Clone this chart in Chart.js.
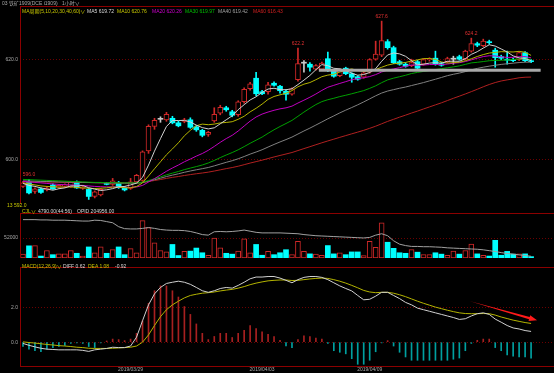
<!DOCTYPE html>
<html>
<head>
<meta charset="utf-8">
<script src="https://cdn.jsdelivr.net/npm/chart.js@4.4.1/dist/chart.umd.min.js"></script>
<style>
  html, body { margin:0; padding:0; background:#000; }
  body { width:554px; height:373px; position:relative; overflow:hidden; }
  canvas { position:absolute; left:0; }
  .t { position:absolute; font-family:"Liberation Sans","Noto Sans CJK SC",sans-serif; font-size:5px; line-height:6px; white-space:nowrap; }
</style>
</head>
<body>
<canvas id="main" width="554" height="209" style="top:0px"></canvas>
<canvas id="vol" width="554" height="54" style="top:209px"></canvas>
<canvas id="macd" width="554" height="110" style="top:263px"></canvas>

<div class="t" style="left:2px;top:0px;color:#a8a8a8">03 铁矿1909(DCE i1909)</div>
<div class="t" style="left:62px;top:0px;color:#a8a8a8">1小时∨</div>
<div class="t" style="left:22px;top:8px;color:#c8c800">MA周期(5,10,20,30,40,60)∨</div>
<div class="t" style="left:87px;top:8px;color:#d8d8d8">MA5 619.72</div>
<div class="t" style="left:117px;top:8px;color:#c8c800">MA10 620.76</div>
<div class="t" style="left:152px;top:8px;color:#d000d0">MA20 620.26</div>
<div class="t" style="left:185px;top:8px;color:#00c000">MA30 619.97</div>
<div class="t" style="left:218px;top:8px;color:#a0a0a0">MA40 619.42</div>
<div class="t" style="left:253px;top:8px;color:#d02020">MA60 616.43</div>
<div class="t" style="left:7px;top:202px;color:#c8c800">13 592.0</div>
<div class="t" style="left:22px;top:208px;color:#c8c800">CJL∨</div>
<div class="t" style="left:38px;top:208px;color:#d8d8d8">4790.00(44:56)</div>
<div class="t" style="left:77px;top:208px;color:#d8d8d8">OPID 204956.00</div>
<div class="t" style="left:22px;top:263px;color:#c8c800">MACD(12,26,9)∨</div>
<div class="t" style="left:63px;top:263px;color:#d8d8d8">DIFF 0.62</div>
<div class="t" style="left:88px;top:263px;color:#c8c800">DEA 1.08</div>
<div class="t" style="left:115px;top:263px;color:#d8d8d8">-0.92</div>

<script>
// ---------------- data ----------------
const slotCount = 89;
const dateTicks = {18:'2019/03/29', 40:'2019/04/03', 58:'2019/04/09'};

const open = [
594.6,595.5,593.6,594.1,593.9,594.9,594.4,594.6,594.5,595.5,
594.2,594.0,592.6,592.9,595.2,595.0,595.3,594.4,594.2,595.5,
595.8,601.7,606.6,608.0,607.9,608.2,607.3,607.6,607.9,606.5,
605.8,605.0,607.7,609.2,610.3,609.5,608.9,611.5,614.1,616.2,
613.5,613.5,615.2,614.6,613.6,613.0,615.9,619.2,619.0,618.0,
618.0,620.1,617.6,616.7,618.2,617.1,616.5,616.4,617.4,620.0,
620.8,623.5,622.3,619.5,619.0,618.7,619.5,619.0,619.9,620.2,
619.1,619.5,620.0,620.5,620.1,621.6,623.1,622.7,623.5,621.8,
620.5,620.0,619.9,619.9,621.3,619.7];
const high = [
595.6,596.0,594.3,594.3,594.6,595.1,595.0,595.1,595.6,595.7,
594.7,594.2,593.7,594.2,595.4,596.2,595.6,594.6,596.2,597.0,
601.7,606.9,608.2,608.5,609.4,608.6,607.6,608.2,608.3,606.8,
606.0,605.6,610.3,610.8,610.6,609.8,611.7,614.3,615.4,617.4,
613.8,615.4,615.5,614.8,613.9,614.3,622.2,619.7,619.3,618.9,
619.4,621.4,617.9,618.1,618.4,617.3,616.7,617.5,620.1,623.6,
627.6,623.9,622.6,619.8,619.3,620.0,619.8,620.1,620.3,621.6,
619.4,620.4,620.6,620.8,621.8,624.2,623.4,624.0,623.8,622.2,
620.8,621.6,620.2,621.5,621.5,619.9];
const low = [
594.4,593.1,593.2,593.2,593.7,594.0,594.2,594.4,594.4,594.2,
594.0,592.0,592.3,592.7,594.9,594.8,594.2,593.7,594.0,595.2,
595.6,601.2,606.0,607.4,607.6,607.1,606.5,607.3,606.2,605.6,
604.5,604.6,607.4,608.9,609.6,608.5,608.6,611.2,613.8,612.7,
612.9,613.0,614.6,613.2,611.8,612.8,615.6,617.4,617.6,617.8,
617.8,617.5,616.4,616.5,616.9,615.4,615.8,616.2,617.2,619.8,
620.5,622.0,619.1,618.8,618.4,618.5,617.9,618.8,619.6,618.8,
618.6,619.3,619.0,619.8,619.9,621.4,622.5,622.5,623.0,618.4,
619.9,619.0,619.5,619.7,619.5,619.3];
const close = [
595.3,593.3,594.1,593.4,594.3,594.1,594.8,594.9,595.4,594.3,
594.5,592.6,593.5,594.0,595.0,595.7,594.4,593.9,595.5,596.8,
601.5,606.6,607.8,608.0,609.0,607.3,606.7,607.9,606.4,605.9,
604.8,605.4,609.0,610.4,609.9,608.8,611.5,614.0,615.1,613.1,
613.1,614.9,614.8,613.7,613.0,614.1,619.1,619.2,618.4,618.7,
619.2,618.0,616.6,617.9,617.1,616.4,616.0,617.3,619.9,621.0,
623.7,622.3,619.3,619.0,618.6,619.3,618.2,619.9,620.1,619.0,
618.8,620.1,620.0,620.0,621.6,623.1,622.8,623.6,623.3,620.3,
620.2,619.8,619.7,621.3,619.7,619.5];

const ma5 = [
595.2,594.8,594.6,594.3,594.08,593.84,594.14,594.30,594.70,594.70,
594.78,594.34,594.06,593.78,593.92,594.16,594.52,594.60,594.90,595.26,
596.42,598.86,601.64,604.14,606.58,607.74,607.76,607.78,607.46,606.84,
606.34,606.08,606.30,607.10,607.90,608.70,609.92,610.92,611.86,612.50,
613.36,614.04,614.20,613.92,613.90,614.10,614.94,615.82,616.76,617.90,
618.92,618.70,618.18,618.08,617.76,617.20,616.80,616.94,617.34,618.12,
619.58,620.84,621.24,621.06,620.58,619.70,618.88,619.00,619.22,619.30,
619.20,619.58,619.60,619.58,620.10,620.96,621.50,622.22,622.88,622.62,
622.04,621.44,620.66,620.26,620.14,619.72];
const ma10 = [
595.3,595.1,594.9,594.7,594.6,594.52,594.47,594.45,594.5,594.39,
594.31,594.24,594.18,594.24,594.31,594.47,594.43,594.33,594.34,594.59,
595.29,596.69,598.12,599.52,600.92,602.08,603.31,604.71,605.80,606.71,
607.04,606.92,607.04,607.28,607.37,607.52,608.00,608.61,609.48,610.20,
611.03,611.98,612.56,612.89,613.20,613.73,614.49,615.01,615.34,615.90,
616.51,616.82,617.00,617.42,617.83,618.06,617.75,617.56,617.71,617.94,
618.39,618.82,619.09,619.20,619.35,619.64,619.86,620.12,620.14,619.94,
619.45,619.23,619.30,619.40,619.70,620.08,620.54,620.91,621.23,621.36,
621.50,621.47,621.44,621.57,621.38,620.76];
const ma20 = [
595.6,595.5,595.4,595.3,595.2,595.1,595.0,594.95,594.9,594.85,
594.8,594.7,594.6,594.55,594.5,594.5,594.45,594.4,594.4,594.49,
594.80,595.47,596.15,596.88,597.62,598.28,598.87,599.52,600.07,600.65,
601.17,601.81,602.58,603.40,604.15,604.80,605.66,606.66,607.64,608.46,
609.04,609.45,609.80,610.09,610.29,610.63,611.25,611.81,612.41,613.05,
613.77,614.40,614.78,615.16,615.52,615.90,616.12,616.29,616.53,616.92,
617.45,617.82,618.05,618.31,618.59,618.85,618.81,618.84,618.93,618.94,
618.92,619.03,619.20,619.30,619.53,619.86,620.20,620.52,620.69,620.65,
620.48,620.35,620.37,620.49,620.54,620.26];
const ma30 = [
596.0,595.95,595.9,595.85,595.8,595.75,595.7,595.65,595.6,595.55,
595.5,595.45,595.4,595.4,595.35,595.35,595.3,595.3,595.3,595.3,
595.45,595.77,596.13,596.50,596.91,597.25,597.58,597.95,598.26,598.56,
598.88,599.28,599.78,600.35,600.87,601.36,601.91,602.55,603.21,603.83,
604.45,605.20,605.91,606.56,607.16,607.78,608.60,609.44,610.21,610.94,
611.53,611.91,612.20,612.53,612.80,613.10,613.41,613.73,614.18,614.68,
615.31,615.87,616.22,616.50,616.79,617.14,617.37,617.56,617.73,617.93,
618.12,618.29,618.46,618.67,618.96,619.26,619.38,619.53,619.69,619.75,
619.78,619.84,619.94,620.06,620.10,619.97];
const ma40 = [
595.7,595.68,595.65,595.6,595.58,595.55,595.5,595.48,595.45,595.42,
595.4,595.38,595.35,595.32,595.3,595.28,595.26,595.25,595.25,595.25,
595.38,595.65,595.94,596.24,596.57,596.85,597.12,597.42,597.68,597.92,
598.14,598.38,598.70,599.06,599.41,599.73,600.12,600.57,601.05,601.47,
601.92,602.46,602.98,603.48,603.95,604.45,605.06,605.67,606.24,606.85,
607.47,608.10,608.68,609.28,609.83,610.35,610.89,611.47,612.08,612.69,
613.24,613.64,613.92,614.20,614.44,614.74,615.03,615.33,615.67,616.00,
616.35,616.71,616.99,617.23,617.52,617.88,618.16,618.40,618.61,618.79,
618.96,619.09,619.21,619.33,619.40,619.42];
const ma60 = [
595.5,595.5,595.48,595.47,595.46,595.45,595.44,595.42,595.4,595.4,
595.38,595.36,595.35,595.34,595.32,595.32,595.31,595.3,595.3,595.30,
595.39,595.58,595.78,595.98,596.20,596.40,596.58,596.78,596.96,597.13,
597.28,597.45,597.67,597.91,598.15,598.37,598.63,598.94,599.26,599.55,
599.84,600.16,600.48,600.78,601.07,601.37,601.76,602.15,602.53,602.92,
603.31,603.68,604.03,604.40,604.75,605.10,605.44,605.80,606.20,606.62,
607.10,607.58,608.00,608.43,608.83,609.25,609.64,610.06,610.47,610.88,
611.29,611.74,612.19,612.62,613.06,613.52,613.99,614.49,614.95,615.34,
615.65,615.87,616.07,616.29,616.40,616.43];

const volume = [
10100,31800,32500,5100,19500,8700,10800,10800,19500,12300,
5100,28900,13700,28900,12300,21700,28900,8700,24500,13700,
97500,79400,39700,19500,15900,35400,6500,17300,18000,26000,
13700,7200,52000,26700,12300,10100,18000,49800,13700,35400,
7200,17300,8700,13700,21700,8700,43300,17300,10800,10100,
7200,32500,10800,13700,8700,15900,15900,6500,43300,28200,
91700,41200,25300,13700,12300,21700,15200,8700,8700,13700,
10100,7200,18000,10100,19500,36100,10800,7200,5100,46200,
7200,17300,10100,10800,10800,3600];
const openInterest = [
256960,256960,256960,256560,256560,256160,256160,256160,255760,255360,
254960,254960,256160,255760,254160,252560,246960,244160,243760,243760,
244560,245760,244560,242960,242160,241760,241760,241360,240160,238160,
235760,234960,239760,240160,239760,240160,240960,242160,240560,238960,
238160,238160,238160,238160,237760,237360,236960,235760,234960,234160,
233760,233360,232960,232560,232160,231760,231360,230960,231760,234960,
236960,234160,226960,222160,220160,218960,218960,218560,218560,218160,
217760,216960,216560,216160,215760,215360,214960,214160,212960,211760,
210160,208960,208160,206960,206160,204956];

const diff = [
-0.07,-0.18,-0.27,-0.35,-0.40,-0.42,-0.44,-0.44,-0.44,-0.44,
-0.47,-0.53,-0.44,-0.40,-0.36,-0.29,-0.31,-0.31,-0.22,0.29,
1.24,2.15,2.78,3.15,3.38,3.45,3.51,3.45,3.33,3.15,
2.96,2.87,2.96,3.09,3.15,3.11,3.27,3.45,3.65,3.75,
3.75,3.78,3.78,3.69,3.56,3.42,3.60,3.73,3.78,3.78,
3.73,3.60,3.42,3.24,3.09,2.95,2.69,2.44,2.47,2.65,
2.87,2.87,2.69,2.51,2.29,2.15,1.96,1.87,1.78,1.69,
1.60,1.51,1.42,1.31,1.35,1.51,1.64,1.69,1.60,1.33,
1.15,0.96,0.82,0.76,0.67,0.62];
const dea = [
0.02,-0.02,-0.05,-0.09,-0.13,-0.16,-0.20,-0.22,-0.25,-0.29,
-0.31,-0.35,-0.36,-0.36,-0.36,-0.35,-0.33,-0.31,-0.29,-0.22,
0.00,0.42,0.96,1.47,1.87,2.15,2.36,2.55,2.69,2.76,
2.82,2.85,2.89,2.95,3.00,3.04,3.11,3.20,3.31,3.40,
3.47,3.53,3.56,3.58,3.58,3.55,3.56,3.60,3.64,3.67,
3.69,3.67,3.60,3.51,3.40,3.27,3.13,2.98,2.89,2.85,
2.87,2.87,2.82,2.73,2.62,2.49,2.36,2.24,2.13,2.02,
1.93,1.84,1.76,1.69,1.65,1.64,1.64,1.65,1.64,1.56,
1.45,1.36,1.27,1.20,1.13,1.08];
const macdHist = [
-0.25,-0.40,-0.49,-0.55,-0.40,-0.31,-0.25,-0.18,-0.07,-0.04,
-0.07,-0.25,-0.31,-0.04,0.07,0.18,0.15,0.09,0.18,0.51,
1.24,2.24,2.96,3.24,3.24,2.96,2.60,2.05,1.60,1.05,
0.51,0.15,0.33,0.51,0.51,0.27,0.51,0.69,0.96,0.78,
0.60,0.45,0.33,0.11,-0.22,-0.31,0.15,0.36,0.33,0.24,
0.18,-0.07,-0.49,-0.58,-0.67,-0.95,-1.27,-1.27,-1.04,-0.55,
-0.04,0.09,-0.22,-0.58,-0.85,-1.04,-1.04,-1.04,-1.04,-1.04,
-1.04,-1.04,-0.98,-0.91,-0.49,-0.07,0.11,0.18,0.18,-0.31,
-0.49,-0.73,-0.80,-0.85,-0.85,-0.92];

const priceTicks = [600, 620];
const volumeTicks = [52000];
const macdTicks = [0, 2];
// extreme-price marks: [bar index, price]
const priceMarks = [[1, 596.0], [46, 622.2], [60, 627.6], [75, 624.2]];
// drawn support line: price level and bar span
const supportLine = {price: 617.8, from: 50, to: 86.6};
// red arrow on MACD panel: [bar index, value]
const arrowFrom = [74.8, 2.36];
const arrowTo = [86.0, 1.26];

// ---------------- styling ----------------
const RED = '#d02828', CYAN = '#00ffff', DOJI = '#c8c8c8', FRAME = '#8b0000', GRID = '#6a0000';
const FONT = 'Liberation Sans';
Chart.defaults.font.family = FONT;
Chart.defaults.font.size = 5;

const xLabels = [];
for (let i = 0; i < slotCount; i++) xLabels.push(dateTicks[i] || '');
const dir = close.map((c, i) => c > open[i] ? 1 : (c < open[i] ? -1 : 0));

function xAxis(show) {
  const ax = {
    type: 'category', labels: xLabels, offset: true, display: show,
    grid: {display: false, drawTicks: false}, border: {display: false},
    ticks: {autoSkip: false, maxRotation: 0, minRotation: 0, padding: 1, color: '#a8a8a8',
            font: {size: 5}, callback: (v, i) => xLabels[i]}
  };
  if (show) ax.afterFit = s => { s.height = 7; };
  return ax;
}
function yAxis(min, max, ticks, fmt) {
  return {
    position: 'left', min, max,
    afterFit: s => { s.width = 20; },
    afterBuildTicks: s => { s.ticks = ticks.map(v => ({value: v})); },
    ticks: {color: '#a8a8a8', font: {size: 5}, padding: 2, callback: fmt},
    grid: {color: GRID, drawTicks: false, lineWidth: 1},
    border: {display: false, dash: [1, 2]}
  };
}
const framePlugin = {
  id: 'frame',
  afterDraw(chart, args, opts) {
    const {ctx, chartArea: a, width} = chart;
    ctx.save();
    ctx.strokeStyle = FRAME; ctx.lineWidth = 1;
    ctx.beginPath();
    ctx.moveTo(a.left + 0.5, a.top); ctx.lineTo(a.left + 0.5, a.bottom);
    if (opts.top) { ctx.moveTo(a.left, a.top - 0.5); ctx.lineTo(width, a.top - 0.5); }
    if (opts.bottom) { ctx.moveTo(a.left, a.bottom + 0.5); ctx.lineTo(width, a.bottom + 0.5); }
    ctx.stroke();
    ctx.restore();
  }
};
const common = {
  responsive: false, animation: false, devicePixelRatio: 1, events: [],
};

// ---------------- main price chart ----------------
const bodyColors = dir.map(d => d > 0 ? '#000000' : (d < 0 ? CYAN : DOJI));
const edgeColors = dir.map(d => d > 0 ? RED : (d < 0 ? CYAN : DOJI));
const maLine = (data, color) => ({type: 'line', data, borderColor: color, borderWidth: 1,
  pointRadius: 0, tension: 0, order: 0, fill: false});

new Chart(document.getElementById('main'), {
  type: 'bar',
  data: {
    labels: xLabels,
    datasets: [
      maLine(ma5, '#d0d0d0'),
      maLine(ma10, '#b4b400'),
      maLine(ma20, '#c000c0'),
      maLine(ma30, '#00a000'),
      maLine(ma40, '#808080'),
      maLine(ma60, '#b02020'),
      {type: 'bar', data: open.map((o, i) => [o, close[i]]), barThickness: 5, minBarLength: 1,
       grouped: false, order: 2, backgroundColor: bodyColors, borderColor: edgeColors,
       borderWidth: dir.map(d => d > 0 ? 1 : 0), borderSkipped: false},
      {type: 'bar', data: low.map((l, i) => [l, high[i]]), barThickness: 1,
       grouped: false, order: 3, backgroundColor: edgeColors, borderWidth: 0}
    ]
  },
  options: {
    ...common,
    layout: {padding: {top: 7, bottom: 2, left: 0, right: 2}},
    plugins: {legend: {display: false}, tooltip: {enabled: false}, frame: {top: true}},
    scales: {x: xAxis(false), y: yAxis(591.09, 630.42, priceTicks, v => v.toFixed(1))}
  },
  plugins: [framePlugin, {
    id: 'marks',
    afterDatasetsDraw(chart) {
      const {ctx, scales: {x, y}} = chart;
      ctx.save();
      // support line
      ctx.strokeStyle = '#a8a8a8'; ctx.lineWidth = 3;
      ctx.beginPath();
      ctx.moveTo(x.getPixelForValue(supportLine.from) - 3, y.getPixelForValue(supportLine.price));
      ctx.lineTo(x.getPixelForValue(supportLine.to), y.getPixelForValue(supportLine.price));
      ctx.stroke();
      // price marks
      ctx.fillStyle = '#e03030'; ctx.font = '5px ' + FONT;
      ctx.textAlign = 'center'; ctx.textBaseline = 'bottom';
      priceMarks.forEach(([i, v]) => {
        ctx.fillText(v.toFixed(1), x.getPixelForValue(i), y.getPixelForValue(v) - 2);
      });
      ctx.restore();
    }
  }]
});

// ---------------- volume chart ----------------
new Chart(document.getElementById('vol'), {
  type: 'bar',
  data: {
    labels: xLabels,
    datasets: [
      {type: 'line', data: openInterest, yAxisID: 'y2', borderColor: '#a0a0a0', borderWidth: 1,
       pointRadius: 0, tension: 0, order: 0},
      {type: 'bar', data: volume, barThickness: 5, order: 1,
       backgroundColor: dir.map(d => d >= 0 ? '#000000' : CYAN),
       borderColor: dir.map(d => d >= 0 ? RED : CYAN),
       borderWidth: dir.map(d => d >= 0 ? 1 : 0), borderSkipped: false}
    ]
  },
  options: {
    ...common,
    layout: {padding: {top: 1, bottom: 1, left: 0, right: 2}},
    plugins: {legend: {display: false}, tooltip: {enabled: false}, frame: {top: true}},
    scales: {
      x: xAxis(false),
      y: yAxis(0, 115000, volumeTicks, v => String(v)),
      y2: {display: false, min: 202556, max: 264956}
    }
  },
  plugins: [framePlugin]
});

// ---------------- MACD chart ----------------
new Chart(document.getElementById('macd'), {
  type: 'bar',
  data: {
    labels: xLabels,
    datasets: [
      {type: 'line', data: diff, borderColor: '#d0d0d0', borderWidth: 1, pointRadius: 0, tension: 0, order: 0},
      {type: 'line', data: dea, borderColor: '#b4b400', borderWidth: 1, pointRadius: 0, tension: 0, order: 0},
      {type: 'bar', data: macdHist, barThickness: 1, order: 1,
       backgroundColor: macdHist.map(v => v >= 0 ? '#a82020' : '#00a0a0')}
    ]
  },
  options: {
    ...common,
    layout: {padding: {top: 1, bottom: 0, left: 0, right: 2}},
    plugins: {legend: {display: false}, tooltip: {enabled: false}, frame: {top: true, bottom: true}},
    scales: {x: xAxis(true), y: yAxis(-1.37, 4.27, macdTicks, v => v.toFixed(1))}
  },
  plugins: [framePlugin, {
    id: 'arrow',
    afterDatasetsDraw(chart) {
      const {ctx, scales: {x, y}} = chart;
      const x0 = x.getPixelForValue(arrowFrom[0]), y0 = y.getPixelForValue(arrowFrom[1]);
      const x1 = x.getPixelForValue(arrowTo[0]), y1 = y.getPixelForValue(arrowTo[1]);
      const ang = Math.atan2(y1 - y0, x1 - x0), c = Math.cos(ang), s = Math.sin(ang);
      const hx = x1 - 8 * c, hy = y1 - 8 * s;
      ctx.save();
      ctx.fillStyle = '#ff1a1a';
      ctx.beginPath();
      ctx.moveTo(x0, y0);
      ctx.lineTo(hx + 1.2 * s, hy - 1.2 * c);
      ctx.lineTo(hx + 3 * s, hy - 3 * c);
      ctx.lineTo(x1, y1);
      ctx.lineTo(hx - 3 * s, hy + 3 * c);
      ctx.lineTo(hx - 1.2 * s, hy + 1.2 * c);
      ctx.closePath();
      ctx.fill();
      ctx.restore();
    }
  }]
});
</script>
</body>
</html>
